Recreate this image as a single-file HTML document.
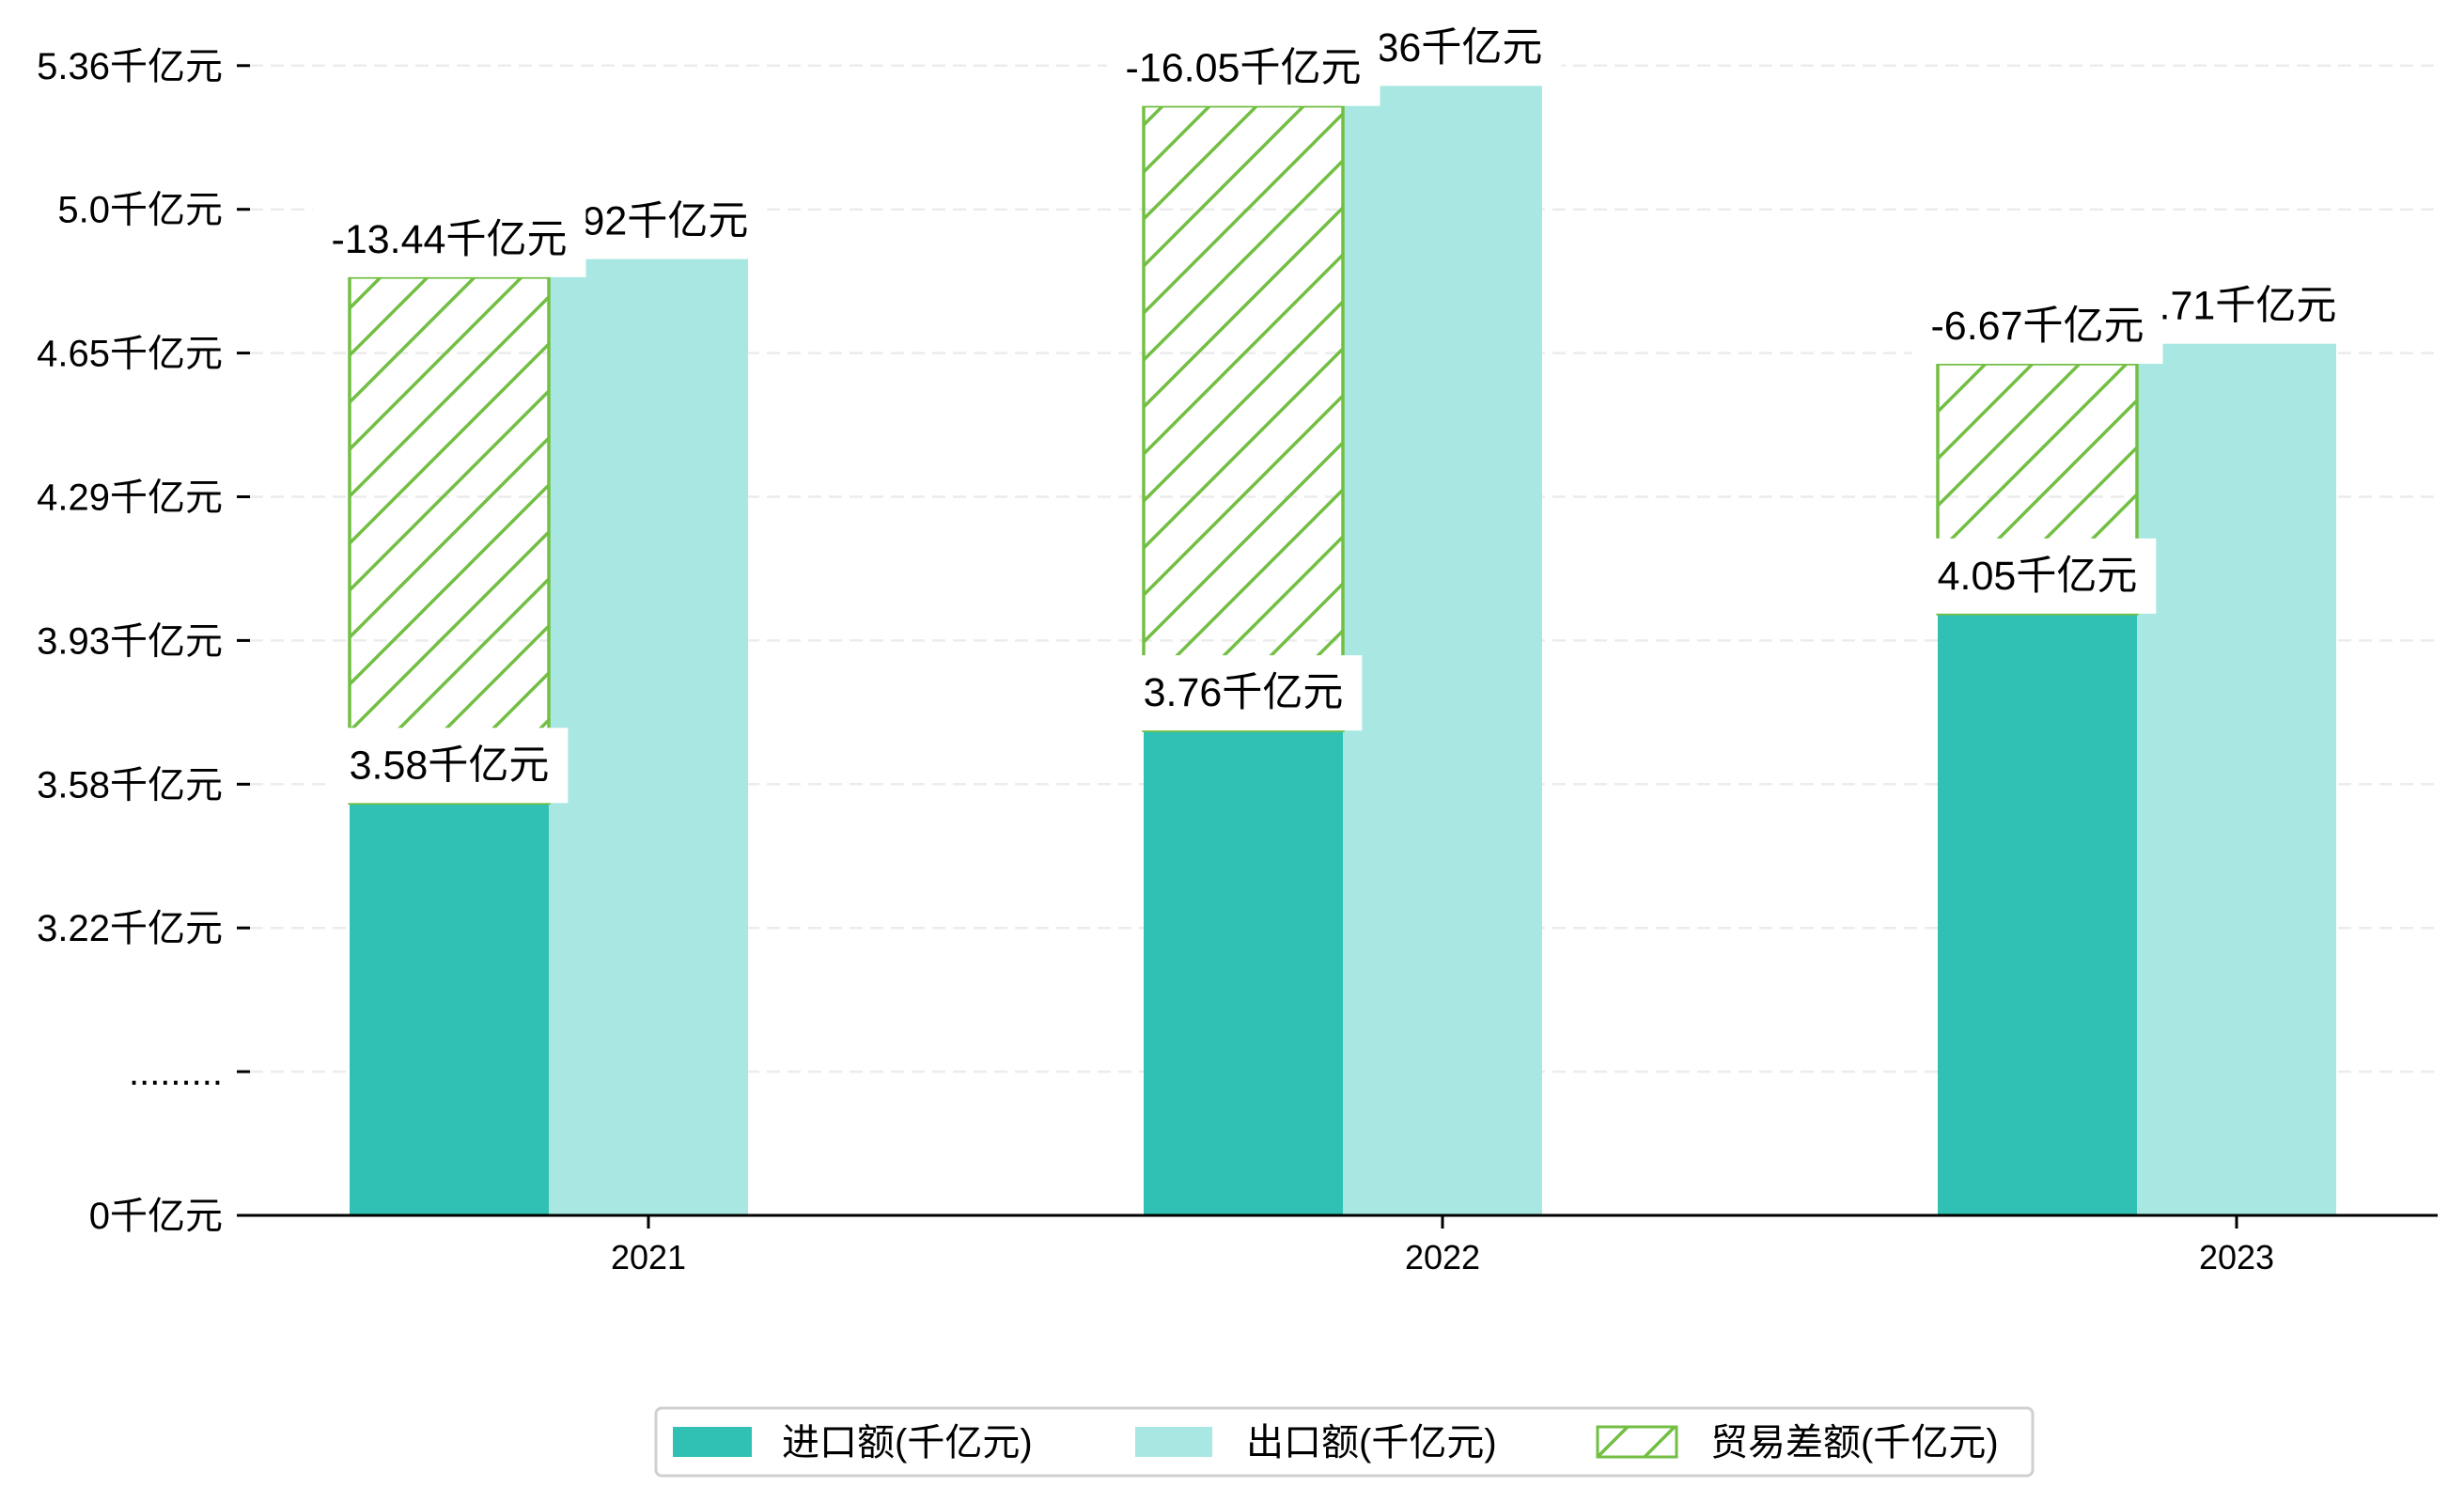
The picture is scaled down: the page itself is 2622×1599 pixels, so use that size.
<!DOCTYPE html>
<html><head><meta charset="utf-8"><style>
html,body{margin:0;padding:0;background:#fff;}
svg{display:block;font-family:"Liberation Sans","Noto Sans CJK SC",sans-serif;}
</style></head><body>
<svg id="chart" width="2622" height="1599" viewBox="0 0 2622 1599" xmlns="http://www.w3.org/2000/svg">
<defs>
<pattern id="hatch" patternUnits="userSpaceOnUse" width="50" height="50">
<line x1="0" y1="50" x2="50" y2="0" stroke="#72bf44" stroke-width="3.5"/>
<line x1="-10" y1="10" x2="10" y2="-10" stroke="#72bf44" stroke-width="3.5"/>
<line x1="40" y1="60" x2="60" y2="40" stroke="#72bf44" stroke-width="3.5"/>
</pattern>
</defs>
<g id="grid"></g><g id="bars"></g><g id="labels"></g><g id="axes"></g>
<g>
<rect x="698" y="1498" width="1465" height="72" rx="6" fill="#fff" stroke="#d0d0d0" stroke-width="3"/>
<rect x="716" y="1518" width="84" height="32" fill="#30c1b4"/>
<text x="832" y="1548" font-size="40">进口额(千亿元)</text>
<rect x="1208" y="1518" width="82" height="32" fill="#a9e8e2"/>
<text x="1326" y="1548" font-size="40">出口额(千亿元)</text>
<rect x="1700" y="1518" width="84" height="32" fill="url(#hatch)" stroke="#72bf44" stroke-width="3"/>
<text x="1820" y="1548" font-size="40">贸易差额(千亿元)</text>
</g>
</svg>
<script>
const categories = ['2021', '2022', '2023'];
const importVals = [3.53, 3.71, 4.00];
const importLabels = ['3.58', '3.76', '4.05'];
const exportVals = [4.88, 5.31, 4.67];
const exportLabels = ['4.92', '5.36', '4.71'];
const balanceTops = [4.835, 5.26, 4.62];
const balanceLabels = ['-13.44', '-16.05', '-6.67'];
const tickLabels = ['0', '.........', '3.22', '3.58', '3.93', '4.29', '4.65', '5.0', '5.36'];

const NS = 'http://www.w3.org/2000/svg';
const Y0 = 1293, STEP = 152.9;
function yIdx(v){ return v >= 3.22 ? 2 + (v - 3.22) / 0.35667 : v / 3.22 * 2; }
function yScale(v){ return Y0 - yIdx(v) * STEP; }
function xCenter(i){ return 690 + i * 845; }
function mk(tag, attrs, parent){ const e = document.createElementNS(NS, tag); for (const k in attrs) e.setAttribute(k, attrs[k]); parent.appendChild(e); return e; }
const grid = document.getElementById('grid'), bars = document.getElementById('bars'), labels = document.getElementById('labels'), axes = document.getElementById('axes');

tickLabels.forEach((t, i) => {
  const y = Y0 - i * STEP;
  if (i > 0) {
    const g = mk('line', {x1: 266, x2: 2594, y1: y, y2: y, stroke: '#ececec', 'stroke-width': 2.5, 'stroke-dasharray': '14,8'}, grid);
    
    
  }
  const tk = mk('line', {x1: 252, x2: 266, y1: y, y2: y, stroke: '#000', 'stroke-width': 3}, axes);
  
  
  const tx = mk('text', {x: 237, y: y + 14, 'text-anchor': 'end', 'font-size': 40}, axes);
  tx.textContent = i === 1 ? t : t + '千亿元';
  
  
});

const ax = mk('line', {x1: 252, x2: 2594, y1: Y0, y2: Y0, stroke: '#000', 'stroke-width': 3}, axes);



function labelBox(cx, bottom, text, name){
  const g = mk('g', {}, labels);
  
  
  const t = mk('text', {x: cx, y: bottom - 26, 'text-anchor': 'middle', 'font-size': 43}, g);
  t.textContent = text;
  const w = t.getComputedTextLength ? t.getComputedTextLength() : 200;
  const r = mk('rect', {x: cx - w / 2 - 20, y: bottom - 80, width: w + 40, height: 80, fill: '#fff'}, g);
  g.insertBefore(r, t);
}

categories.forEach((c, i) => {
  const cx = xCenter(i);
  const yi = yScale(importVals[i]);
  const b1 = mk('rect', {x: cx - 318, y: yi, width: 212, height: Y0 - yi, fill: '#30c1b4'}, bars);
  
  
  const ye = yScale(exportVals[i]);
  const b2 = mk('rect', {x: cx - 106, y: ye, width: 212, height: Y0 - ye, fill: '#a9e8e2'}, bars);
  
  
  const yb = yScale(balanceTops[i]);
  const b3 = mk('rect', {x: cx - 318, y: yb, width: 212, height: yi - yb, fill: 'url(#hatch)', stroke: '#72bf44', 'stroke-width': 3.5}, bars);
  
  
  const xt = mk('line', {x1: cx, x2: cx, y1: Y0, y2: Y0 + 14, stroke: '#000', 'stroke-width': 3}, axes);
  
  
  const xl = mk('text', {x: cx, y: Y0 + 57, 'text-anchor': 'middle', 'font-size': 36}, axes);
  xl.textContent = c;
  
  
});
categories.forEach((c, i) => { labelBox(xCenter(i), yScale(exportVals[i]), exportLabels[i] + '千亿元', 'export-value-label'); });
categories.forEach((c, i) => { labelBox(xCenter(i) - 212, yScale(balanceTops[i]), balanceLabels[i] + '千亿元', 'balance-value-label'); });
categories.forEach((c, i) => { labelBox(xCenter(i) - 212, yScale(importVals[i]), importLabels[i] + '千亿元', 'import-value-label'); });
</script>
</body></html>
